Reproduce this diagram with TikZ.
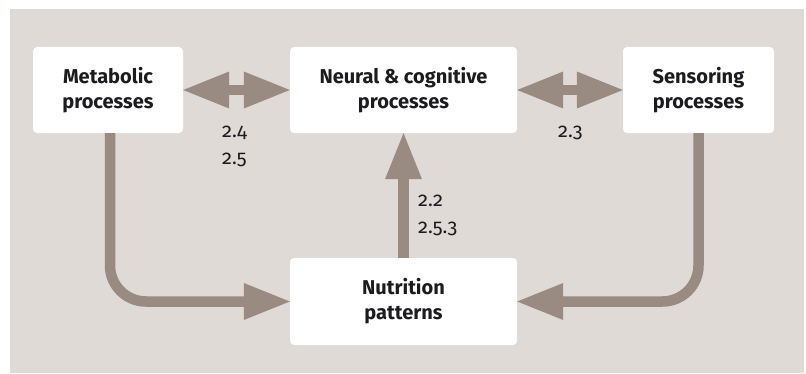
\documentclass[tikz,border=0pt]{standalone}
\usepackage{fontspec}
\setmainfont{Fira Sans}
\newfontfamily\refnums[Numbers=OldStyle]{Fira Sans}
\usetikzlibrary{arrows.meta}
\definecolor{panelbg}{RGB}{223,218,214}
\definecolor{flow}{RGB}{153,138,130}
\definecolor{ink}{RGB}{28,28,32}
\begin{document}
\begin{tikzpicture}[x=1pt,y=1pt,
  procbox/.style={fill=white, rounded corners=4pt, inner sep=0pt,
    text=ink, font=\bfseries\fontsize{20}{25}\selectfont, align=center},
  fatline/.style={draw=flow, line width=10.5pt},
  headtip/.style={-{Triangle[width=37pt,length=46pt,line width=0pt]}},
  bothtips/.style={{Triangle[width=37pt,length=46pt,line width=0pt]}-{Triangle[width=37pt,length=46pt,line width=0pt]}},
  reflabel/.style={text=ink, font=\refnums\fontsize{20}{27}\selectfont, inner sep=0pt, align=left, anchor=north west}]
\useasboundingbox (0,0) rectangle (806,373);
% panel
\fill[panelbg] (10,0) rectangle (804,364);

% process boxes
\node[procbox, minimum width=150pt, minimum height=86pt] (met) at (108,283) {Metabolic\\processes};
\node[procbox, minimum width=227pt, minimum height=86pt] (neu) at (403.5,283) {Neural \& cognitive\\processes};
\node[procbox, minimum width=151pt, minimum height=86pt] (sen) at (698.5,283) {Sensoring\\processes};
\node[procbox, minimum width=227pt, minimum height=87pt] (nut) at (403.5,71.5) {Nutrition\\patterns};

% connectors
\draw[fatline, bothtips] (met.east) -- (neu.west);
\draw[fatline, bothtips] (neu.east) -- (sen.west);
\draw[fatline, headtip] (nut.north) -- (neu.south);
\draw[fatline, headtip, rounded corners=36pt] ([xshift=2pt]met.south) |- (nut.west);
\draw[fatline, headtip, rounded corners=36pt] (sen.south) |- (nut.east);

% section references
\node[reflabel] (l24) at (222,247.5) {2.4\\2.5};
\node[reflabel] (l23) at (558,247.5) {2.3};
\node[reflabel] (l22) at (418,178.5) {2.2\\2.5.3};
\end{tikzpicture}
\end{document}
